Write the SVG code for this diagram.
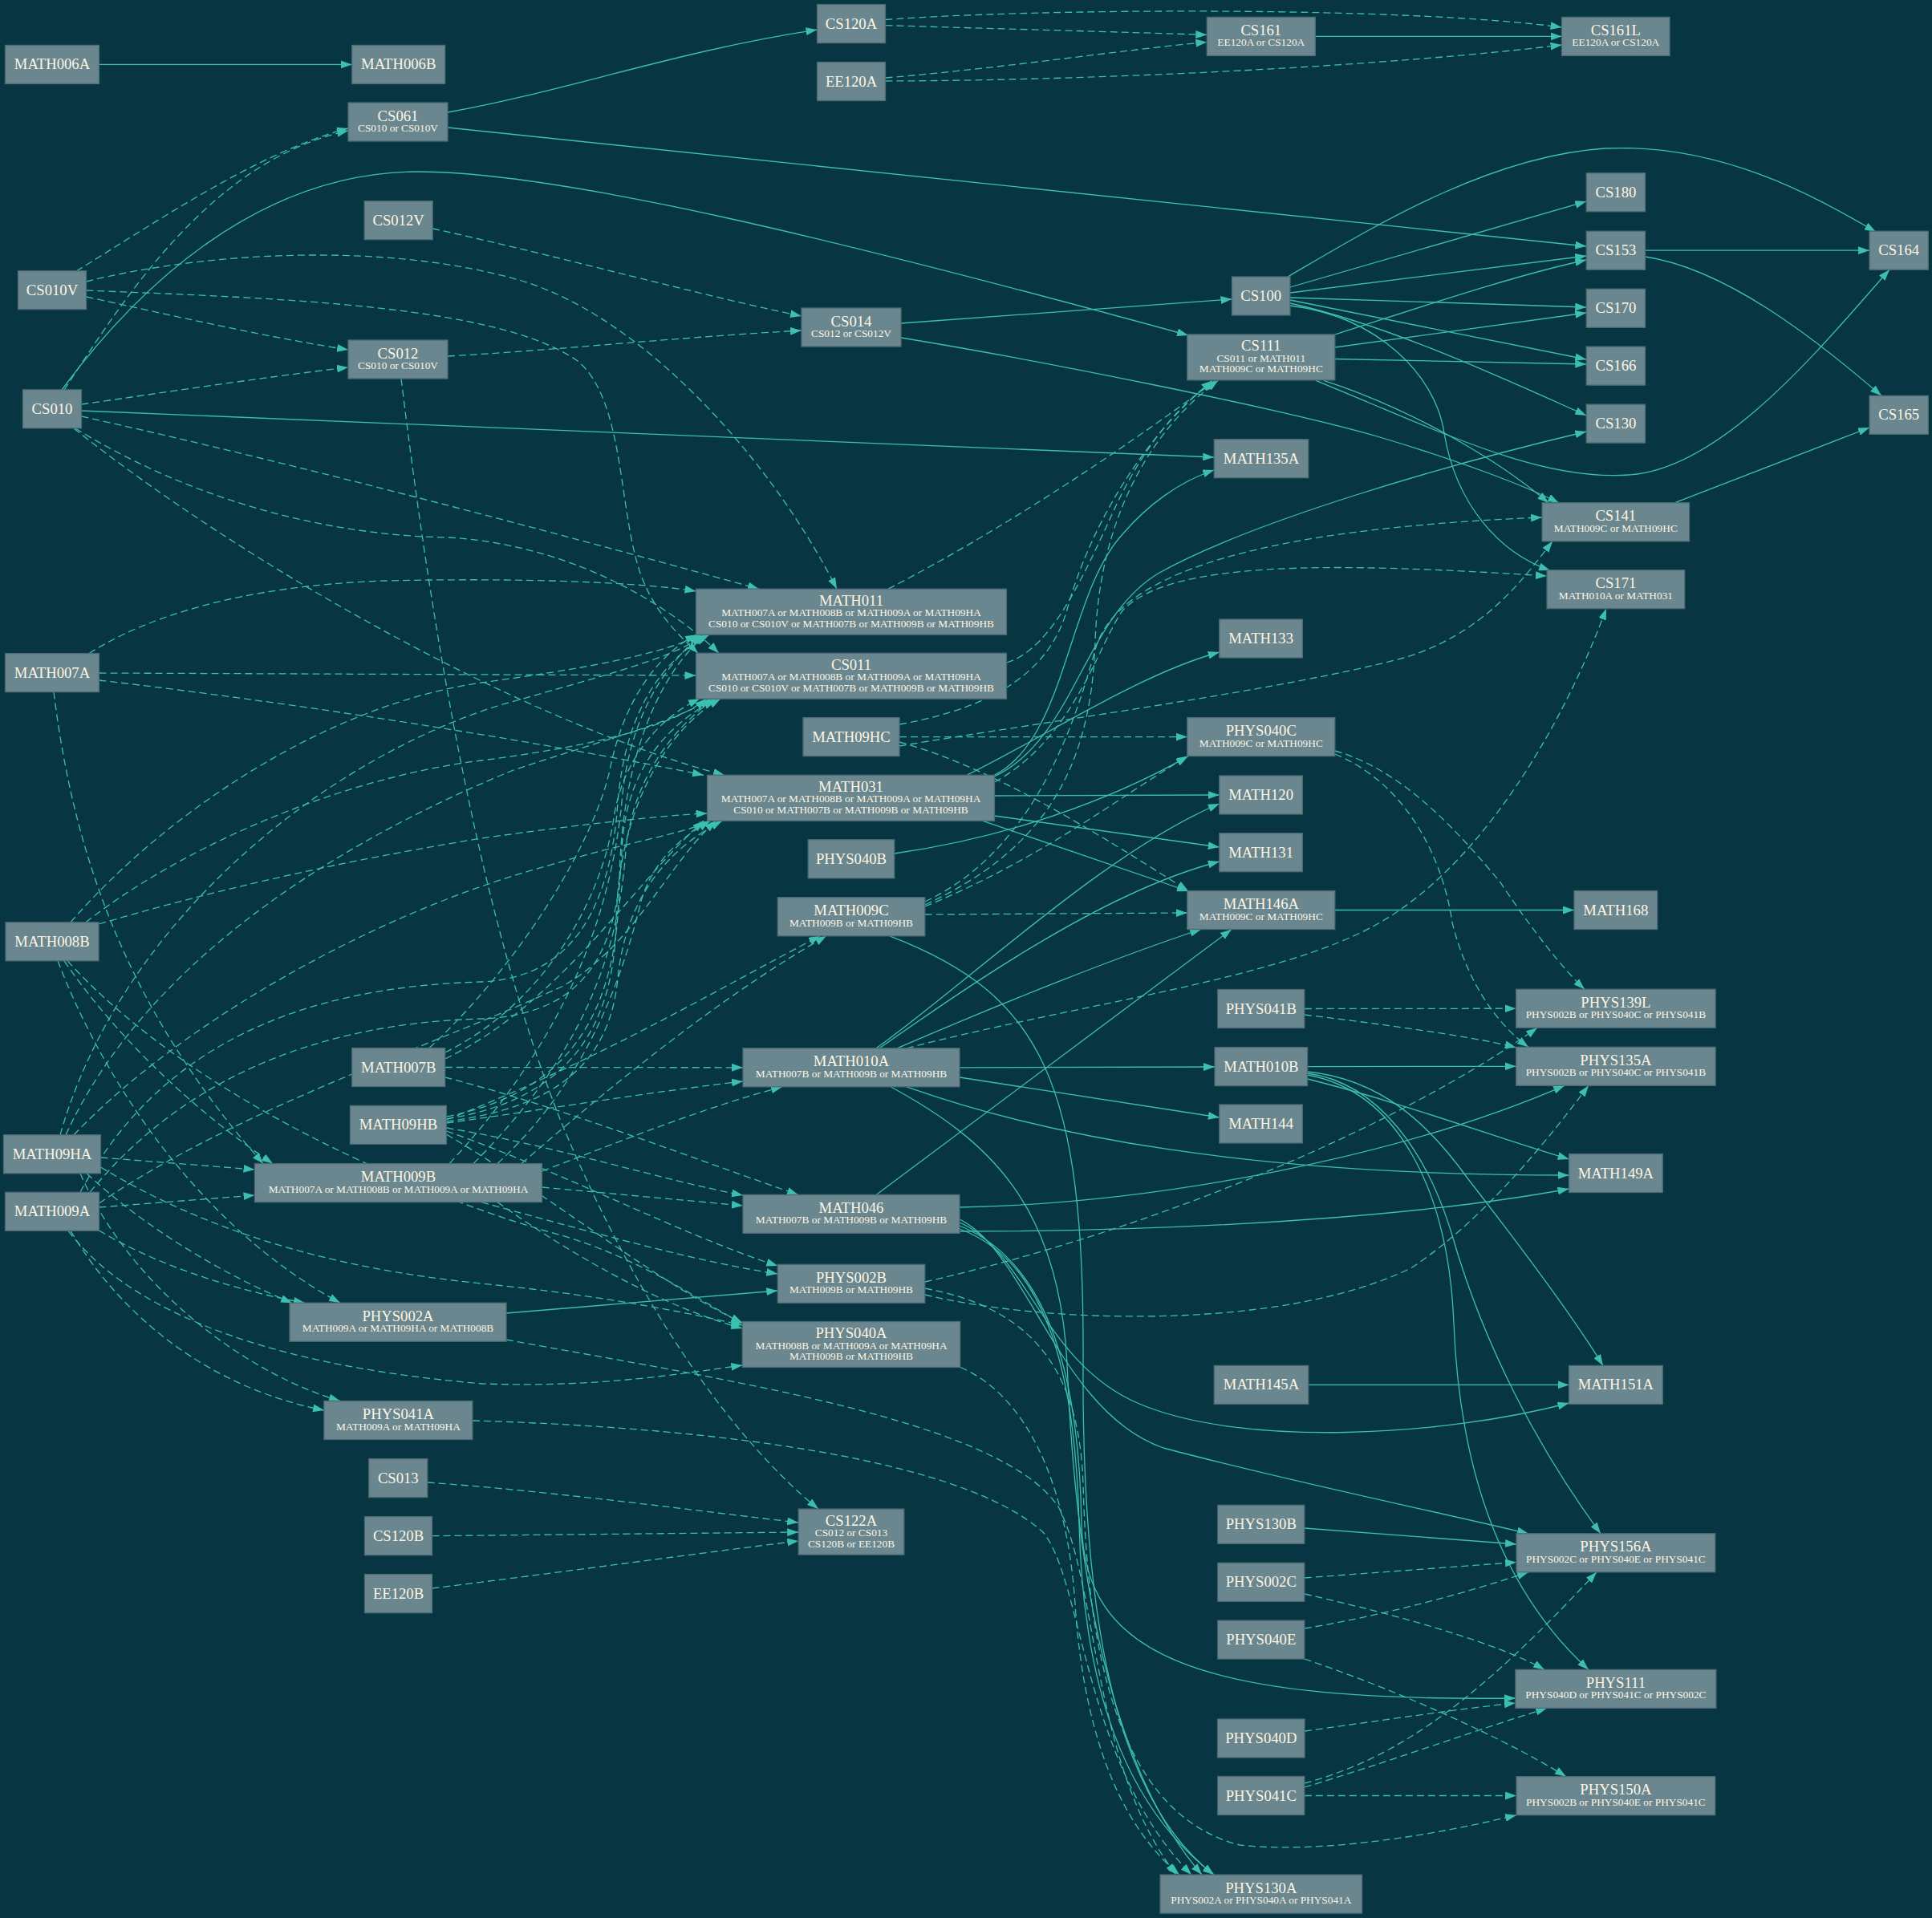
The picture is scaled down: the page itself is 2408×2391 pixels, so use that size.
<svg xmlns="http://www.w3.org/2000/svg" width="2408" height="2391" viewBox="0 0 2408 2391">
<defs>
<style>
.n rect{fill:#6a868f;stroke:#4e6b74;stroke-width:1.3}
.n text{font-family:"Liberation Serif","Times New Roman",serif;fill:#fdf6e3;text-anchor:middle}
.t{font-size:18.67px}
.s{font-size:13.33px}
#edges path{fill:none;stroke:#3cbfae;stroke-width:1.3;marker-end:url(#a)}
#edges path.d{stroke-dasharray:9,5}
</style>
<marker id="a" markerUnits="userSpaceOnUse" markerWidth="14" markerHeight="10" viewBox="0 0 13.3 9.4" refX="13.3" refY="4.7" orient="auto"><path d="M0,0 L13.3,4.7 L0,9.4 z" fill="#3cbfae"/></marker>
</defs>
<rect width="2408" height="2391" fill="#073642"/>
<g id="edges">
<path d="M123.6,80.4 L438.7,80.4"/>
<path class="d" d="M95,338 C190,280 320,190 434,160"/>
<path class="d" d="M80,486 C150,380 260,200 434,163"/>
<path d="M77,486 C170,360 320,215 520,214 C700,214 1050,300 1481,418"/>
<path class="d" d="M539.2,285 C700,320 880,370 999,394"/>
<path class="d" d="M558,444 C700,436 850,420 999,412"/>
<path class="d" d="M107.5,370 C200,390 330,420 434,436"/>
<path class="d" d="M101.5,504 C200,490 330,470 434,458"/>
<path d="M101.5,512 L1513.25,570"/>
<path d="M558,140 C700,115 850,62 1018.5,37"/>
<path d="M558,159 L1977.25,307"/>
<path class="d" d="M1103.5,31.6 C1250,36 1400,40 1504.3,43.4"/>
<path class="d" d="M1103.5,24.5 C1300,10 1750,8 1946.55,34"/>
<path class="d" d="M1103.5,97 C1250,85 1400,62 1504.3,52.5"/>
<path class="d" d="M1103.5,101 C1400,100 1750,80 1946.55,56"/>
<path d="M1639.3,45.4 L1946.55,45.4"/>
<path d="M1123,403 L1535.45,373"/>
<path d="M1123,421 C1300,450 1600,510 1720,545 C1820,575 1900,605 1943,627"/>
<path d="M1605,345 C1700,290 1850,195 2000,185 C2150,178 2270,250 2338,289"/>
<path d="M1608,358 L1977.25,251"/>
<path d="M1608,365 L1977.25,319"/>
<path d="M1663.8,417 C1750,390 1880,345 1977.25,324"/>
<path d="M1608,371 L1977.25,383"/>
<path d="M1663.8,433 L1977.25,390"/>
<path d="M1608,374 L1977.25,448"/>
<path d="M1663.8,447.5 L1977.25,454"/>
<path d="M1608,378 C1730,405 1870,470 1977.25,518"/>
<path d="M1608,381 C1720,395 1790,470 1800,540 C1815,630 1870,690 1932,711"/>
<path d="M1650,474.4 C1760,510 1870,575 1930,627"/>
<path d="M1640,474.4 C1800,540 1920,600 2030,592 C2150,585 2280,420 2355,336.2"/>
<path d="M2050.55,312.2 L2330.05,312.2"/>
<path d="M2050.55,320 C2150,335 2260,420 2345,493.3"/>
<path d="M2087,626.8 L2330.05,533"/>
<path d="M1239.5,968 C1340,920 1350,770 1445,714 C1560,650 1800,580 1977.25,538"/>
<path d="M1239.5,966.3 C1330,920 1330,740 1400,665 C1430,630 1470,600 1513.25,586"/>
<path d="M1205,966.3 C1300,920 1420,840 1519.8,813"/>
<path d="M1239.5,992 L1519.8,991"/>
<path d="M1239.5,1017 L1519.8,1056"/>
<path d="M1225,1023.3 L1481,1111"/>
<path d="M1114.75,1064 C1250,1045 1380,1000 1481,942.6"/>
<path d="M1092,1306.8 C1200,1230 1380,1060 1519.8,1002"/>
<path d="M1096,1306.8 C1220,1220 1380,1110 1519.8,1074"/>
<path d="M1118,1306.8 C1250,1250 1400,1190 1497,1158.5"/>
<path d="M1092,1489.4 L1535,1158.5"/>
<path d="M1196,1330.8 L1514,1330"/>
<path d="M1196,1343 L1519.8,1393"/>
<path d="M1130,1354.8 C1300,1415 1550,1465 1955.55,1465"/>
<path d="M1110,1354.8 C1230,1420 1320,1500 1330,1700 C1340,1950 1380,2200 1498,2337.1"/>
<path d="M1109,1166.8 C1300,1240 1352,1350 1350,1700 C1348,2050 1400,2250 1513,2337.1"/>
<path d="M1196,1532 C1300,1570 1340,1700 1345,1900 C1350,2100 1400,2250 1513,2337.1"/>
<path d="M1196,1528 C1300,1570 1345,1700 1348,1900 C1352,2060 1480,2122 1888.9,2117"/>
<path d="M1196,1524 C1280,1560 1300,1700 1420,1750 C1550,1805 1800,1790 1955.55,1749"/>
<path d="M1196,1520 C1280,1560 1320,1760 1450,1805 C1600,1845 1780,1882 1905,1911.8"/>
<path d="M1196,1535 C1450,1535 1750,1520 1955.55,1482"/>
<path d="M1196,1505 C1450,1500 1750,1440 1950,1353.3"/>
<path d="M1629.6,1329.6 L1889.65,1329.3"/>
<path d="M1629.6,1345 C1750,1375 1870,1420 1955.55,1445"/>
<path d="M1629.6,1336 C1720,1345 1780,1400 1830,1470 C1900,1560 1960,1640 1998,1702.4"/>
<path d="M1629.6,1338 C1720,1350 1780,1440 1810,1540 C1850,1680 1920,1810 1995,1911.8"/>
<path d="M1629.6,1340 C1740,1360 1805,1480 1812,1650 C1820,1850 1880,1990 1980,2081.4"/>
<path d="M1630.75,1726.4 L1955.55,1726.4"/>
<path d="M1625.8,1905 L1890.05,1925"/>
<path class="d" d="M1625.8,1967 L1890.05,1947.5"/>
<path class="d" d="M1625.8,1987 C1750,2015 1870,2050 1925,2081.4"/>
<path class="d" d="M1625.8,2030 C1720,2015 1830,1985 1905,1959.8"/>
<path class="d" d="M1625.8,2068 C1750,2110 1880,2170 1952,2214.7"/>
<path class="d" d="M1626,2158 C1720,2145 1820,2130 1888.9,2123"/>
<path class="d" d="M1625.8,2223 C1750,2190 1850,2110 1990,1959.8"/>
<path class="d" d="M1625.8,2228 C1720,2200 1830,2160 1928,2129.4"/>
<path class="d" d="M1625.8,2238.5 L1890.05,2238.5"/>
<path class="d" d="M1152.8,1606 C1280,1630 1345,1700 1350,1850 C1355,2050 1390,2260 1545,2300 C1650,2312 1800,2285 1890.05,2262.7"/>
<path class="d" d="M1152.8,1614 C1300,1650 1600,1660 1760,1580 C1850,1520 1930,1420 1980,1353.3"/>
<path class="d" d="M1152.8,1598 C1450,1530 1750,1400 1916,1281.2"/>
<path d="M631,1637 L969.25,1609"/>
<path class="d" d="M631,1670 C900,1720 1250,1770 1320,1880 C1370,1980 1360,2200 1466,2337.1"/>
<path class="d" d="M1197,1704.5 C1280,1740 1330,1850 1340,2000 C1350,2150 1390,2270 1470,2337.1"/>
<path class="d" d="M588.9,1771 C900,1780 1200,1820 1300,1910 C1350,1970 1350,2200 1485,2337.1"/>
<path class="d" d="M107.5,351 C250,315 480,300 650,350 C800,395 960,570 1043,734.2"/>
<path class="d" d="M107.5,362 C350,372 620,380 720,450 C780,500 770,640 800,720 C820,770 850,795 870,814.2"/>
<path class="d" d="M101.5,519 C400,585 750,680 946,734.2"/>
<path class="d" d="M94,534 C250,630 420,668 560,670 C720,680 840,760 896,814.2"/>
<path class="d" d="M92,534 C300,700 650,900 903,966.3"/>
<path class="d" d="M111,814.6 C180,770 300,730 480,724 C650,720 800,726 867.5,737"/>
<path class="d" d="M123.5,839 L867.5,842"/>
<path class="d" d="M123.5,848 C400,880 700,930 877,966.3"/>
<path class="d" d="M67,862.6 C90,1050 150,1250 328,1450.6"/>
<path class="d" d="M88,1149.8 C200,1020 400,880 600,851 C720,835 830,815 872,791.2"/>
<path class="d" d="M107,1149.8 C220,1060 420,970 600,948 C740,930 840,905 880,871.2"/>
<path class="d" d="M123,1152 C300,1100 460,1068 600,1045 C720,1028 830,1016 881.5,1014"/>
<path class="d" d="M80,1197.8 C150,1300 250,1390 340,1450.6"/>
<path class="d" d="M72,1197.8 C130,1350 250,1530 424,1624.2"/>
<path class="d" d="M84,1197.8 C250,1380 550,1500 700,1540 C800,1570 870,1620 925.25,1650"/>
<path class="d" d="M75,1414.8 C150,1150 400,950 620,880 C760,840 840,820 878,791.2"/>
<path class="d" d="M82,1414.8 C180,1200 420,1050 640,960 C760,920 840,900 886,871.2"/>
<path class="d" d="M92,1414.8 C220,1280 460,1140 680,1080 C780,1050 850,1040 886,1023.3"/>
<path class="d" d="M125.5,1443 L317.5,1458"/>
<path class="d" d="M125.5,1455 C250,1530 400,1580 600,1600 C750,1615 850,1635 925.25,1652"/>
<path class="d" d="M108,1462.8 C180,1530 280,1590 364,1624.2"/>
<path class="d" d="M100,1462.8 C160,1600 300,1710 424,1746.5"/>
<path class="d" d="M100,1486.3 C200,1300 380,1230 600,1224 C700,1220 760,1150 770,1000 C780,880 830,820 884,791.2"/>
<path class="d" d="M112,1486.3 C240,1330 420,1275 600,1270 C720,1265 770,1200 775,1060 C780,950 840,900 892,871.2"/>
<path class="d" d="M123.5,1500 C300,1380 550,1300 700,1230 C790,1180 830,1080 892,1023.3"/>
<path class="d" d="M123.5,1505 L317.5,1490"/>
<path class="d" d="M85,1534.3 C150,1620 300,1700 602,1725 C750,1730 850,1712 925.25,1702"/>
<path class="d" d="M123.5,1534 C200,1580 300,1610 380,1624.2"/>
<path class="d" d="M88,1534.3 C150,1640 260,1730 404,1758"/>
<path class="d" d="M535,1306.5 C650,1200 740,1050 760,960 C780,860 830,810 868,791.2"/>
<path class="d" d="M554.7,1312 C680,1250 750,1120 765,1020 C775,950 820,895 872,871.2"/>
<path class="d" d="M554.7,1320 C700,1250 790,1100 877,1023.3"/>
<path class="d" d="M554.7,1330.5 L926,1330.8"/>
<path class="d" d="M554.7,1343 C700,1380 880,1450 995,1489.4"/>
<path class="d" d="M556.4,1392 C720,1360 770,1250 772,1100 C774,950 820,840 880,791.2"/>
<path class="d" d="M556.4,1395 C710,1370 765,1280 768,1150 C770,1010 830,910 898,871.2"/>
<path class="d" d="M556.4,1398 C700,1380 760,1320 770,1220 C780,1120 830,1060 900,1023.3"/>
<path class="d" d="M556.4,1396 C750,1320 900,1230 1022,1166.8"/>
<path class="d" d="M556.4,1400 C700,1380 820,1360 926,1348"/>
<path class="d" d="M556.4,1406 C700,1430 820,1470 926,1490"/>
<path class="d" d="M556.4,1410 C700,1460 850,1540 969.25,1578"/>
<path class="d" d="M556.4,1414 C700,1500 820,1600 925.25,1649"/>
<path class="d" d="M560,1450.6 C700,1300 760,1150 775,1000 C785,880 840,820 874,791.2"/>
<path class="d" d="M590,1450.6 C720,1320 770,1200 780,1060 C790,960 850,900 890,871.2"/>
<path class="d" d="M620,1450.6 C740,1340 780,1200 800,1120 C820,1060 860,1040 884,1023.3"/>
<path class="d" d="M650,1450.6 C800,1320 920,1230 1030,1166.8"/>
<path class="d" d="M675.7,1460 C780,1420 880,1380 975,1354.8"/>
<path class="d" d="M675.7,1480 L926,1503"/>
<path class="d" d="M600,1498.6 C750,1540 880,1575 969.25,1588"/>
<path class="d" d="M620,1498.6 C720,1570 830,1630 925.25,1656"/>
<path class="d" d="M500,472 C540,800 600,1150 700,1400 C800,1640 920,1800 1020,1881.1"/>
<path class="d" d="M532.8,1848 C700,1860 880,1885 995.2,1898"/>
<path class="d" d="M538.5,1914.7 L995.2,1910"/>
<path class="d" d="M538.5,1980 C700,1960 880,1935 995.2,1921"/>
<path class="d" d="M1107,734.2 C1250,660 1400,560 1515,474.4"/>
<path class="d" d="M1254.5,826 C1310,810 1350,720 1392,628 C1420,570 1460,510 1513,476"/>
<path class="d" d="M1152.75,1128 C1300,1060 1360,960 1365,800 C1370,650 1430,540 1518,474.4"/>
<path class="d" d="M1121,903 C1250,880 1310,830 1330,760 C1360,650 1430,540 1511,474.4"/>
<path class="d" d="M1152.75,1130 C1300,1070 1400,990 1479.8,943"/>
<path class="d" d="M1121,918.6 L1479.8,918.6"/>
<path class="d" d="M1152.75,1140 L1479.8,1138"/>
<path class="d" d="M1121,925 C1250,960 1400,1060 1481,1110.5"/>
<path class="d" d="M1152.75,1124 C1290,1060 1340,900 1365,810 C1390,720 1550,660 1922.1,645"/>
<path class="d" d="M1121,930 C1300,900 1600,860 1750,820 C1850,790 1900,720 1935,674.8"/>
<path class="d" d="M1130,1306.8 C1350,1250 1600,1220 1720,1150 C1850,1075 1950,900 2002,758.7"/>
<path class="d" d="M1239.5,975 C1340,920 1370,800 1400,760 C1460,700 1650,700 1928,718"/>
<path class="d" d="M1663.8,936 C1750,960 1820,1040 1870,1100 C1910,1160 1950,1210 1975,1233.2"/>
<path class="d" d="M1663.8,940 C1760,980 1800,1080 1810,1150 C1830,1230 1870,1280 1905,1305.3"/>
<path class="d" d="M1625.8,1257.5 L1889.65,1257.2"/>
<path class="d" d="M1625.8,1265 C1750,1280 1850,1295 1889.65,1306"/>
<path d="M1663.8,1134.5 L1962,1134.5"/>
</g>
<g id="MATH006A" class="n"><rect x="6.5" y="56.4" width="117" height="48"/><text class="t" x="65" y="86.4">MATH006A</text></g>
<g id="CS010V" class="n"><rect x="22.5" y="337.7" width="85" height="48"/><text class="t" x="65" y="367.7">CS010V</text></g>
<g id="CS010" class="n"><rect x="28.5" y="485.8" width="73" height="48"/><text class="t" x="65" y="515.8">CS010</text></g>
<g id="MATH007A" class="n"><rect x="6.5" y="814.6" width="117" height="48"/><text class="t" x="65" y="844.6">MATH007A</text></g>
<g id="MATH008B" class="n"><rect x="7" y="1149.8" width="116" height="48"/><text class="t" x="65" y="1179.8">MATH008B</text></g>
<g id="MATH09HA" class="n"><rect x="4.5" y="1414.8" width="121" height="48"/><text class="t" x="65" y="1444.8">MATH09HA</text></g>
<g id="MATH009A" class="n"><rect x="6.5" y="1486.3" width="117" height="48"/><text class="t" x="65" y="1516.3">MATH009A</text></g>
<g id="MATH006B" class="n"><rect x="438.7" y="56.4" width="116" height="48"/><text class="t" x="496.7" y="86.4">MATH006B</text></g>
<g id="CS061" class="n"><rect x="434" y="128" width="124" height="48"/><text class="t" x="496" y="150.5">CS061</text><text class="s" x="496" y="164">CS010 or CS010V</text></g>
<g id="CS012V" class="n"><rect x="454.2" y="250.7" width="85" height="48"/><text class="t" x="496.7" y="280.7">CS012V</text></g>
<g id="CS012" class="n"><rect x="434" y="424" width="124" height="48"/><text class="t" x="496" y="446.5">CS012</text><text class="s" x="496" y="460">CS010 or CS010V</text></g>
<g id="MATH007B" class="n"><rect x="438.7" y="1306.5" width="116" height="48"/><text class="t" x="496.7" y="1336.5">MATH007B</text></g>
<g id="MATH09HB" class="n"><rect x="436.4" y="1378.3" width="120" height="48"/><text class="t" x="496.4" y="1408.3">MATH09HB</text></g>
<g id="MATH009B" class="n"><rect x="317.5" y="1450.6" width="358" height="48"/><text class="t" x="496.5" y="1473.1">MATH009B</text><text class="s" x="496.5" y="1486.6">MATH007A or MATH008B or MATH009A or MATH09HA</text></g>
<g id="PHYS002A" class="n"><rect x="361" y="1624.2" width="270" height="48"/><text class="t" x="496" y="1646.7">PHYS002A</text><text class="s" x="496" y="1660.2">MATH009A or MATH09HA or MATH008B</text></g>
<g id="PHYS041A" class="n"><rect x="403.9" y="1746.5" width="185" height="48"/><text class="t" x="496.4" y="1769">PHYS041A</text><text class="s" x="496.4" y="1782.5">MATH009A or MATH09HA</text></g>
<g id="CS013" class="n"><rect x="459.8" y="1818.6" width="73" height="48"/><text class="t" x="496.3" y="1848.6">CS013</text></g>
<g id="CS120B" class="n"><rect x="454.5" y="1890.7" width="84" height="48"/><text class="t" x="496.5" y="1920.7">CS120B</text></g>
<g id="EE120B" class="n"><rect x="454.5" y="1962.6" width="84" height="48"/><text class="t" x="496.5" y="1992.6">EE120B</text></g>
<g id="CS120A" class="n"><rect x="1018.5" y="5.6" width="85" height="48"/><text class="t" x="1061" y="35.6">CS120A</text></g>
<g id="EE120A" class="n"><rect x="1018.5" y="77.5" width="85" height="48"/><text class="t" x="1061" y="107.5">EE120A</text></g>
<g id="CS014" class="n"><rect x="999" y="384" width="124" height="48"/><text class="t" x="1061" y="406.5">CS014</text><text class="s" x="1061" y="420">CS012 or CS012V</text></g>
<g id="MATH011" class="n"><rect x="867.5" y="734.2" width="387" height="57"/><text class="t" x="1061" y="754.7">MATH011</text><text class="s" x="1061" y="768.2">MATH007A or MATH008B or MATH009A or MATH09HA</text><text class="s" x="1061" y="781.7">CS010 or CS010V or MATH007B or MATH009B or MATH09HB</text></g>
<g id="CS011" class="n"><rect x="867.5" y="814.2" width="387" height="57"/><text class="t" x="1061" y="834.7">CS011</text><text class="s" x="1061" y="848.2">MATH007A or MATH008B or MATH009A or MATH09HA</text><text class="s" x="1061" y="861.7">CS010 or CS010V or MATH007B or MATH009B or MATH09HB</text></g>
<g id="MATH09HC" class="n"><rect x="1001" y="894.6" width="120" height="48"/><text class="t" x="1061" y="924.6">MATH09HC</text></g>
<g id="MATH031" class="n"><rect x="881.5" y="966.3" width="358" height="57"/><text class="t" x="1060.5" y="986.8">MATH031</text><text class="s" x="1060.5" y="1000.3">MATH007A or MATH008B or MATH009A or MATH09HA</text><text class="s" x="1060.5" y="1013.8">CS010 or MATH007B or MATH009B or MATH09HB</text></g>
<g id="PHYS040B" class="n"><rect x="1007.25" y="1046.8" width="107.5" height="48"/><text class="t" x="1061" y="1076.8">PHYS040B</text></g>
<g id="MATH009C" class="n"><rect x="969.25" y="1118.8" width="183.5" height="48"/><text class="t" x="1061" y="1141.3">MATH009C</text><text class="s" x="1061" y="1154.8">MATH009B or MATH09HB</text></g>
<g id="MATH010A" class="n"><rect x="926" y="1306.8" width="270" height="48"/><text class="t" x="1061" y="1329.3">MATH010A</text><text class="s" x="1061" y="1342.8">MATH007B or MATH009B or MATH09HB</text></g>
<g id="MATH046" class="n"><rect x="926" y="1489.4" width="270" height="48"/><text class="t" x="1061" y="1511.9">MATH046</text><text class="s" x="1061" y="1525.4">MATH007B or MATH009B or MATH09HB</text></g>
<g id="PHYS002B" class="n"><rect x="969.25" y="1576.3" width="183.5" height="48"/><text class="t" x="1061" y="1598.8">PHYS002B</text><text class="s" x="1061" y="1612.3">MATH009B or MATH09HB</text></g>
<g id="PHYS040A" class="n"><rect x="925.25" y="1647.5" width="271.5" height="57"/><text class="t" x="1061" y="1668">PHYS040A</text><text class="s" x="1061" y="1681.5">MATH008B or MATH009A or MATH09HA</text><text class="s" x="1061" y="1695">MATH009B or MATH09HB</text></g>
<g id="CS122A" class="n"><rect x="995.2" y="1881.1" width="131.6" height="57"/><text class="t" x="1061" y="1901.6">CS122A</text><text class="s" x="1061" y="1915.1">CS012 or CS013</text><text class="s" x="1061" y="1928.6">CS120B or EE120B</text></g>
<g id="CS161" class="n"><rect x="1504.3" y="21.4" width="135" height="48"/><text class="t" x="1571.8" y="43.9">CS161</text><text class="s" x="1571.8" y="57.4">EE120A or CS120A</text></g>
<g id="CS100" class="n"><rect x="1535.45" y="345" width="72.5" height="48"/><text class="t" x="1571.7" y="375">CS100</text></g>
<g id="CS111" class="n"><rect x="1479.8" y="416.9" width="184" height="57"/><text class="t" x="1571.8" y="437.4">CS111</text><text class="s" x="1571.8" y="450.9">CS011 or MATH011</text><text class="s" x="1571.8" y="464.4">MATH009C or MATH09HC</text></g>
<g id="MATH135A" class="n"><rect x="1513.25" y="547.7" width="117.5" height="48"/><text class="t" x="1572" y="577.7">MATH135A</text></g>
<g id="MATH133" class="n"><rect x="1519.8" y="772" width="103.6" height="48"/><text class="t" x="1571.6" y="802">MATH133</text></g>
<g id="PHYS040C" class="n"><rect x="1479.8" y="894.6" width="184" height="48"/><text class="t" x="1571.8" y="917.1">PHYS040C</text><text class="s" x="1571.8" y="930.6">MATH009C or MATH09HC</text></g>
<g id="MATH120" class="n"><rect x="1519.8" y="967" width="103.6" height="48"/><text class="t" x="1571.6" y="997">MATH120</text></g>
<g id="MATH131" class="n"><rect x="1519.8" y="1038.7" width="103.6" height="48"/><text class="t" x="1571.6" y="1068.7">MATH131</text></g>
<g id="MATH146A" class="n"><rect x="1479.8" y="1110.5" width="184" height="48"/><text class="t" x="1571.8" y="1133">MATH146A</text><text class="s" x="1571.8" y="1146.5">MATH009C or MATH09HC</text></g>
<g id="PHYS041B" class="n"><rect x="1517.8" y="1233.5" width="108" height="48"/><text class="t" x="1571.8" y="1263.5">PHYS041B</text></g>
<g id="MATH010B" class="n"><rect x="1514" y="1305.6" width="115.6" height="48"/><text class="t" x="1571.8" y="1335.6">MATH010B</text></g>
<g id="MATH144" class="n"><rect x="1519.8" y="1377" width="103.6" height="48"/><text class="t" x="1571.6" y="1407">MATH144</text></g>
<g id="MATH145A" class="n"><rect x="1513.25" y="1702.4" width="117.5" height="48"/><text class="t" x="1572" y="1732.4">MATH145A</text></g>
<g id="PHYS130B" class="n"><rect x="1517.8" y="1876.3" width="108" height="48"/><text class="t" x="1571.8" y="1906.3">PHYS130B</text></g>
<g id="PHYS002C" class="n"><rect x="1517.8" y="1948.3" width="108" height="48"/><text class="t" x="1571.8" y="1978.3">PHYS002C</text></g>
<g id="PHYS040E" class="n"><rect x="1517.8" y="2020.1" width="108" height="48"/><text class="t" x="1571.8" y="2050.1">PHYS040E</text></g>
<g id="PHYS040D" class="n"><rect x="1517.55" y="2143" width="108.5" height="48"/><text class="t" x="1571.8" y="2173">PHYS040D</text></g>
<g id="PHYS041C" class="n"><rect x="1517.8" y="2214.5" width="108" height="48"/><text class="t" x="1571.8" y="2244.5">PHYS041C</text></g>
<g id="PHYS130A" class="n"><rect x="1446.05" y="2337.1" width="251.5" height="48"/><text class="t" x="1571.8" y="2359.6">PHYS130A</text><text class="s" x="1571.8" y="2373.1">PHYS002A or PHYS040A or PHYS041A</text></g>
<g id="CS161L" class="n"><rect x="1946.55" y="21.4" width="134.5" height="48"/><text class="t" x="2013.8" y="43.9">CS161L</text><text class="s" x="2013.8" y="57.4">EE120A or CS120A</text></g>
<g id="CS180" class="n"><rect x="1977.25" y="215.8" width="73.3" height="48"/><text class="t" x="2013.9" y="245.8">CS180</text></g>
<g id="CS153" class="n"><rect x="1977.25" y="288.2" width="73.3" height="48"/><text class="t" x="2013.9" y="318.2">CS153</text></g>
<g id="CS170" class="n"><rect x="1977.25" y="360.2" width="73.3" height="48"/><text class="t" x="2013.9" y="390.2">CS170</text></g>
<g id="CS166" class="n"><rect x="1977.25" y="432.1" width="73.3" height="48"/><text class="t" x="2013.9" y="462.1">CS166</text></g>
<g id="CS130" class="n"><rect x="1977.25" y="504.1" width="73.3" height="48"/><text class="t" x="2013.9" y="534.1">CS130</text></g>
<g id="CS141" class="n"><rect x="1922.1" y="626.8" width="183.4" height="48"/><text class="t" x="2013.8" y="649.3">CS141</text><text class="s" x="2013.8" y="662.8">MATH009C or MATH09HC</text></g>
<g id="CS171" class="n"><rect x="1928.05" y="710.7" width="171.7" height="48"/><text class="t" x="2013.9" y="733.2">CS171</text><text class="s" x="2013.9" y="746.7">MATH010A or MATH031</text></g>
<g id="MATH168" class="n"><rect x="1962" y="1110.5" width="103.6" height="48"/><text class="t" x="2013.8" y="1140.5">MATH168</text></g>
<g id="PHYS139L" class="n"><rect x="1889.65" y="1233.2" width="248.5" height="48"/><text class="t" x="2013.9" y="1255.7">PHYS139L</text><text class="s" x="2013.9" y="1269.2">PHYS002B or PHYS040C or PHYS041B</text></g>
<g id="PHYS135A" class="n"><rect x="1889.65" y="1305.3" width="248.5" height="48"/><text class="t" x="2013.9" y="1327.8">PHYS135A</text><text class="s" x="2013.9" y="1341.3">PHYS002B or PHYS040C or PHYS041B</text></g>
<g id="MATH149A" class="n"><rect x="1955.55" y="1438.5" width="116.7" height="48"/><text class="t" x="2013.9" y="1468.5">MATH149A</text></g>
<g id="MATH151A" class="n"><rect x="1955.55" y="1702.4" width="116.7" height="48"/><text class="t" x="2013.9" y="1732.4">MATH151A</text></g>
<g id="PHYS156A" class="n"><rect x="1890.05" y="1911.8" width="247.7" height="48"/><text class="t" x="2013.9" y="1934.3">PHYS156A</text><text class="s" x="2013.9" y="1947.8">PHYS002C or PHYS040E or PHYS041C</text></g>
<g id="PHYS111" class="n"><rect x="1888.9" y="2081.4" width="250" height="48"/><text class="t" x="2013.9" y="2103.9">PHYS111</text><text class="s" x="2013.9" y="2117.4">PHYS040D or PHYS041C or PHYS002C</text></g>
<g id="PHYS150A" class="n"><rect x="1890.05" y="2214.7" width="247.7" height="48"/><text class="t" x="2013.9" y="2237.2">PHYS150A</text><text class="s" x="2013.9" y="2250.7">PHYS002B or PHYS040E or PHYS041C</text></g>
<g id="CS164" class="n"><rect x="2330.05" y="288.2" width="73.3" height="48"/><text class="t" x="2366.7" y="318.2">CS164</text></g>
<g id="CS165" class="n"><rect x="2330.05" y="493.3" width="73.3" height="48"/><text class="t" x="2366.7" y="523.3">CS165</text></g>
</svg>
